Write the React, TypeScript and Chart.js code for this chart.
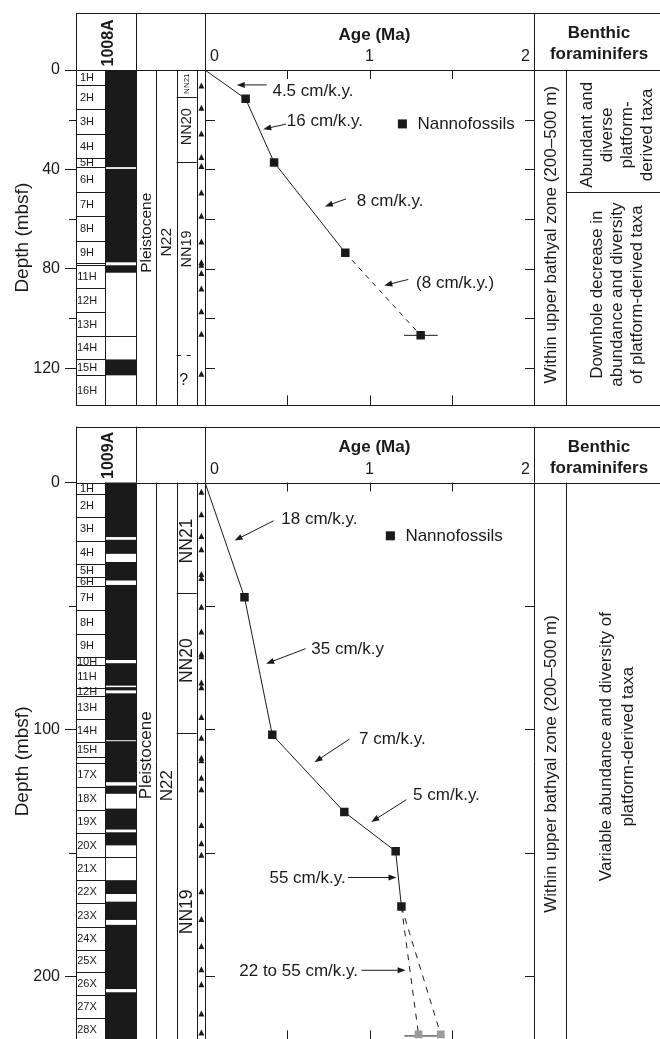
import React, { useEffect, useRef } from "react";
import { Chart, registerables } from "chart.js";

Chart.register(...registerables);

const FONT = '"Liberation Sans", Arial, Helvetica, sans-serif';
const INK = "#1a1a1a";
const GRAY = "#9b9b9b";

// ---------- shared age axis ----------
const AGE_MAX = 2;
const AGE_LABELS = [0, 1, 2];
const AGE_TICKS = [0.5, 1, 1.5];
const AGE_TITLE = "Age (Ma)";
const DEPTH_TITLE = "Depth (mbsf)";
const EPOCH_NAME = "Pleistocene";
const FORAM_ZONE = "N22";
const BATHYAL_TEXT = "Within upper bathyal zone (200–500 m)";
const BENTHIC_HEAD = ["Benthic", "foraminifers"];
const LEGEND_TEXT = "Nannofossils";

// ---------- Hole 1008A ----------
const A_SITE = "1008A";
const A_DEPTH_MAX = 135;
const A_DEPTH_TICKS = [0, 20, 40, 60, 80, 100, 120];
const A_DEPTH_LABELS = [0, 40, 80, 120];
const A_MODEL_AGE = [0, 0.247, 0.42, 0.853, 1.311];
const A_MODEL_DEPTH = [0, 11.6, 37.2, 73.6, 106.8];
const A_MODEL_DASHED_FROM = 3;
const A_NANNO_AGE = [0.247, 0.42, 0.853, 1.311];
const A_NANNO_DEPTH = [11.6, 37.2, 73.6, 106.8];
const A_ERROR_AGE = [1.21, 1.415];
const A_ERROR_DEPTH = [106.8, 106.8];
const A_SECTION_BOUNDS = [0, 6.0, 15.8, 25.7, 35.5, 39.2, 49.3, 58.9, 68.9, 77.6, 78.6, 87.7, 97.5, 107.1, 116.5, 122.9, 135];
const A_SECTION_LABELS = ["1H", "2H", "3H", "4H", "5H", "6H", "7H", "8H", "9H", "", "11H", "12H", "13H", "14H", "15H", "16H"];
const A_RECOVERY_TOP = [0, 39.8, 78.6, 116.5];
const A_RECOVERY_BASE = [39.1, 77.4, 81.6, 122.9];
const A_CORE_LINES = [107.1];
const A_NN_BOUNDS = [11.0, 37.2];
const A_NN_UNCERTAIN = [114.9];
const A_NN_NAMES = ["NN21", "NN20", "NN19"];
const A_NN_NAME_DEPTHS = [5.5, 22.8, 72];
const A_NN_NAME_SIZES = [8, 14.5, 14.5];
const A_QUERY_DEPTH = 125;
const A_EPOCH_DEPTH = 65.5;
const A_FORAM_DEPTH = 69.3;
const A_SAMPLES = [6.4, 15.4, 25.8, 35.2, 38.8, 49.5, 58.9, 69.2, 77.6, 78.6, 81.9, 88.1, 97.3, 106.4, 122.5];
const A_RATE_LABELS = ["4.5 cm/k.y.", "16 cm/k.y.", "8 cm/k.y.", "(8 cm/k.y.)"];
const A_RATE_TEXT_AT: [number, number][] = [[0.41, 8.6], [0.497, 20.8], [0.922, 52.9], [1.283, 86.0]];
const A_RATE_ALIGN = ["left", "left", "left", "left"];
const A_RATE_FROM: [number, number][] = [[0.375, 6.0], [0.492, 21.8], [0.857, 51.9], [1.236, 84.3]];
const A_RATE_TO: [number, number][] = [[0.193, 6.0], [0.354, 23.8], [0.729, 54.9], [1.09, 86.7]];
const A_LEGEND_AT: [number, number] = [1.2, 21.7];
const A_BENTHIC_BOUNDS = [49.3];
const A_BENTHIC_TEXTS = [
  ["Abundant and", "diverse", "platform-", "derived taxa"],
  ["Downhole decrease in", "abundance and diversity", "of platform-derived taxa"],
];
const A_BENTHIC_DEPTHS = [26.1, 90.4];
const A_BATHYAL_DEPTH = 66.3;

// ---------- Hole 1009A ----------
const B_SITE = "1009A";
const B_DEPTH_MAX = 226;
const B_DEPTH_TICKS = [0, 50, 100, 150, 200];
const B_DEPTH_LABELS = [0, 100, 200];
const B_MODEL_AGE = [0, 0.24, 0.409, 0.847, 1.159, 1.194];
const B_MODEL_DEPTH = [0, 46.5, 102.2, 133.5, 149.4, 171.8];
const B_NANNO_AGE = [0.24, 0.409, 0.847, 1.159, 1.194];
const B_NANNO_DEPTH = [46.5, 102.2, 133.5, 149.4, 171.8];
const B_BRANCH_AGE = [1.298, 1.433];
const B_BRANCH_DEPTH = [223.6, 223.6];
const B_ERROR_AGE = [1.212, 1.455];
const B_ERROR_DEPTH = [224.2, 224.2];
const B_SECTION_BOUNDS = [0, 4.6, 14.1, 23.5, 32.9, 38.1, 41.9, 51.6, 61.4, 70.8, 73.8, 83.2, 86.3, 95.7, 105.1, 111.3, 113.7, 123.2, 132.6, 142.0, 151.7, 161.1, 170.5, 179.9, 189.3, 198.1, 207.5, 216.9, 226];
const B_SECTION_LABELS = ["1H", "2H", "3H", "4H", "5H", "6H", "7H", "8H", "9H", "10H", "11H", "12H", "13H", "14H", "15H", "", "17X", "18X", "19X", "20X", "21X", "22X", "23X", "24X", "25X", "26X", "27X", "28X"];
const B_RECOVERY_TOP = [0, 23.2, 32.2, 41.5, 73.2, 82.9, 85.4, 104.8, 122.8, 132.1, 141.7, 161.1, 169.8, 179.2, 206.5];
const B_RECOVERY_BASE = [22.1, 28.9, 39.7, 71.9, 82.3, 84.2, 104.4, 121.4, 126.1, 140.6, 147.0, 166.7, 177.2, 205.2, 226];
const B_CORE_LINES = [151.7];
const B_NN_BOUNDS = [44.9, 101.6];
const B_NN_UNCERTAIN: number[] = [];
const B_NN_NAMES = ["NN21", "NN20", "NN19"];
const B_NN_NAME_DEPTHS = [23.7, 72.2, 173.9];
const B_NN_NAME_SIZES = [17.5, 17.5, 17.5];
const B_EPOCH_DEPTH = 110.5;
const B_FORAM_DEPTH = 122.8;
const B_SAMPLES = [4.0, 13.1, 21.9, 27.2, 37.3, 38.9, 50.5, 60.6, 69.6, 70.6, 81.2, 83.1, 95.2, 103.6, 111.7, 112.7, 119.8, 124.5, 138.9, 146.3, 151.0, 165.8, 177.0, 188.0, 197.4, 203.5, 215.3, 223.0];
const B_RATE_LABELS = ["18 cm/k.y.", "35 cm/k.y", "7 cm/k.y.", "5 cm/k.y.", "55 cm/k.y.", "22 to 55 cm/k.y."];
const B_RATE_TEXT_AT: [number, number][] = [[0.464, 15.0], [0.646, 67.7], [0.936, 103.9], [1.265, 126.8], [0.855, 160.2], [0.93, 198.2]];
const B_RATE_ALIGN = ["left", "left", "left", "left", "right", "right"];
const B_RATE_FROM: [number, number][] = [[0.417, 15.5], [0.612, 67.3], [0.879, 103.9], [1.224, 128.5], [0.869, 160.0], [0.951, 197.6]];
const B_RATE_TO: [number, number][] = [[0.18, 23.5], [0.372, 73.4], [0.666, 113.3], [1.011, 137.5], [1.164, 160.0], [1.22, 197.6]];
const B_LEGEND_AT: [number, number] = [1.127, 21.6];
const B_BENTHIC_BOUNDS: number[] = [];
const B_BENTHIC_TEXTS = [["Variable abundance and diversity of", "platform-derived taxa"]];
const B_BENTHIC_DEPTHS = [107];
const B_BATHYAL_DEPTH = 114;

// ---------- layout (pixels) ----------
const CANVAS_W = 660;
const LEFT_AXIS_W = 76;
const COLUMNS_W = 129; // strip columns left of the age plot
const PLOT_W = 458 - COLUMNS_W;
const RIGHT_PAD = 126;
const X_MIN = (-AGE_MAX * COLUMNS_W) / PLOT_W;

interface PanelSpec {
  site: string;
  canvasH: number;
  headerTop: number;
  chartTop: number;
  chartBottom: number;
  depthMax: number;
  depthTicks: number[];
  depthLabels: number[];
  modelAge: number[];
  modelDepth: number[];
  dashedFrom: number;
  nannoAge: number[];
  nannoDepth: number[];
  branchAge: number[];
  branchDepth: number[];
  errorAge: number[];
  errorDepth: number[];
  sectionBounds: number[];
  sectionLabels: string[];
  recoveryTop: number[];
  recoveryBase: number[];
  coreLines: number[];
  nnBounds: number[];
  nnUncertain: number[];
  nnNames: string[];
  nnNameDepths: number[];
  nnNameSizes: number[];
  queryDepth: number | null;
  epochDepth: number;
  foramDepth: number;
  zoneSize: number;
  samples: number[];
  rateLabels: string[];
  rateTextAt: [number, number][];
  rateAlign: string[];
  rateFrom: [number, number][];
  rateTo: [number, number][];
  legendAt: [number, number];
  benthicBounds: number[];
  benthicTexts: string[][];
  benthicDepths: number[];
  benthicLH: number;
  bathyalDepth: number;
}

const PANEL_A: PanelSpec = {
  site: A_SITE, canvasH: 420, headerTop: 13, chartTop: 70, chartBottom: 406.1,
  depthMax: A_DEPTH_MAX, depthTicks: A_DEPTH_TICKS, depthLabels: A_DEPTH_LABELS,
  modelAge: A_MODEL_AGE, modelDepth: A_MODEL_DEPTH, dashedFrom: A_MODEL_DASHED_FROM,
  nannoAge: A_NANNO_AGE, nannoDepth: A_NANNO_DEPTH, branchAge: [], branchDepth: [],
  errorAge: A_ERROR_AGE, errorDepth: A_ERROR_DEPTH,
  sectionBounds: A_SECTION_BOUNDS, sectionLabels: A_SECTION_LABELS,
  recoveryTop: A_RECOVERY_TOP, recoveryBase: A_RECOVERY_BASE, coreLines: A_CORE_LINES,
  nnBounds: A_NN_BOUNDS, nnUncertain: A_NN_UNCERTAIN, nnNames: A_NN_NAMES,
  nnNameDepths: A_NN_NAME_DEPTHS, nnNameSizes: A_NN_NAME_SIZES, queryDepth: A_QUERY_DEPTH,
  epochDepth: A_EPOCH_DEPTH, foramDepth: A_FORAM_DEPTH, zoneSize: 15.5, samples: A_SAMPLES,
  rateLabels: A_RATE_LABELS, rateTextAt: A_RATE_TEXT_AT, rateAlign: A_RATE_ALIGN,
  rateFrom: A_RATE_FROM, rateTo: A_RATE_TO, legendAt: A_LEGEND_AT,
  benthicBounds: A_BENTHIC_BOUNDS, benthicTexts: A_BENTHIC_TEXTS, benthicDepths: A_BENTHIC_DEPTHS,
  benthicLH: 20, bathyalDepth: A_BATHYAL_DEPTH,
};

const PANEL_B: PanelSpec = {
  site: B_SITE, canvasH: 640, headerTop: 11.7, chartTop: 67.5, chartBottom: 67.5 + 226 * 2.479,
  depthMax: B_DEPTH_MAX, depthTicks: B_DEPTH_TICKS, depthLabels: B_DEPTH_LABELS,
  modelAge: B_MODEL_AGE, modelDepth: B_MODEL_DEPTH, dashedFrom: 999,
  nannoAge: B_NANNO_AGE, nannoDepth: B_NANNO_DEPTH, branchAge: B_BRANCH_AGE, branchDepth: B_BRANCH_DEPTH,
  errorAge: B_ERROR_AGE, errorDepth: B_ERROR_DEPTH,
  sectionBounds: B_SECTION_BOUNDS, sectionLabels: B_SECTION_LABELS,
  recoveryTop: B_RECOVERY_TOP, recoveryBase: B_RECOVERY_BASE, coreLines: B_CORE_LINES,
  nnBounds: B_NN_BOUNDS, nnUncertain: B_NN_UNCERTAIN, nnNames: B_NN_NAMES,
  nnNameDepths: B_NN_NAME_DEPTHS, nnNameSizes: B_NN_NAME_SIZES, queryDepth: null,
  epochDepth: B_EPOCH_DEPTH, foramDepth: B_FORAM_DEPTH, zoneSize: 17, samples: B_SAMPLES,
  rateLabels: B_RATE_LABELS, rateTextAt: B_RATE_TEXT_AT, rateAlign: B_RATE_ALIGN,
  rateFrom: B_RATE_FROM, rateTo: B_RATE_TO, legendAt: B_LEGEND_AT,
  benthicBounds: B_BENTHIC_BOUNDS, benthicTexts: B_BENTHIC_TEXTS, benthicDepths: B_BENTHIC_DEPTHS,
  benthicLH: 22, bathyalDepth: B_BATHYAL_DEPTH,
};

// ---------- drawing helpers ----------
const snap = (v: number) => Math.round(v) + 0.5;

function hLine(ctx: CanvasRenderingContext2D, x1: number, x2: number, y: number) {
  ctx.beginPath();
  ctx.moveTo(x1, snap(y));
  ctx.lineTo(x2, snap(y));
  ctx.stroke();
}
function vLine(ctx: CanvasRenderingContext2D, x: number, y1: number, y2: number) {
  ctx.beginPath();
  ctx.moveTo(snap(x), y1);
  ctx.lineTo(snap(x), y2);
  ctx.stroke();
}
function vText(ctx: CanvasRenderingContext2D, lines: string[], cx: number, cy: number, font: string, lh: number, align: CanvasTextAlign = "center") {
  ctx.save();
  ctx.translate(cx, cy);
  ctx.rotate(-Math.PI / 2);
  ctx.font = font;
  ctx.textAlign = align;
  ctx.textBaseline = "middle";
  const n = lines.length;
  lines.forEach((s, i) => ctx.fillText(s, 0, (i - (n - 1) / 2) * lh));
  ctx.restore();
}
function arrow(ctx: CanvasRenderingContext2D, x1: number, y1: number, x2: number, y2: number) {
  const ang = Math.atan2(y2 - y1, x2 - x1);
  const L = 8;
  const W = 3;
  const c = Math.cos(ang);
  const s = Math.sin(ang);
  ctx.beginPath();
  ctx.moveTo(x1, y1);
  ctx.lineTo(x2 - c * 4, y2 - s * 4);
  ctx.stroke();
  ctx.beginPath();
  ctx.moveTo(x2, y2);
  ctx.lineTo(x2 - L * c + W * s, y2 - L * s - W * c);
  ctx.lineTo(x2 - L * c - W * s, y2 - L * s + W * c);
  ctx.closePath();
  ctx.fill();
}

function makeDecor(p: PanelSpec) {
  return {
    id: "stratDecor",
    beforeDatasetsDraw(chart: any) {
      const ctx: CanvasRenderingContext2D = chart.ctx;
      const { left, right, top, bottom } = chart.chartArea;
      const xs = chart.scales.x;
      const ys = chart.scales.y;
      const Y = (d: number) => ys.getPixelForValue(d);
      const X = (a: number) => xs.getPixelForValue(a);
      const plotL = X(0);
      const cSec = left + 29;
      const cCore = left + 60;
      const cEpoch = left + 80;
      const cForam = left + 100.7;
      const cNN = left + 120.7;
      const split = right + 32;
      const W = chart.width;
      const hTop = p.headerTop;

      ctx.save();
      ctx.strokeStyle = INK;
      ctx.fillStyle = INK;
      ctx.lineWidth = 1;

      // recovery (black) column
      p.recoveryTop.forEach((t, i) => {
        const y1 = Y(t);
        const y2 = Y(p.recoveryBase[i]);
        ctx.fillRect(cSec, y1, cCore - cSec, y2 - y1);
      });

      // section boxes
      p.sectionBounds.forEach((b, i) => {
        if (i === 0 || i === p.sectionBounds.length - 1) return;
        hLine(ctx, left, cSec, Y(b));
      });
      p.coreLines.forEach((b) => hLine(ctx, left, cCore, Y(b)));
      ctx.font = `11px ${FONT}`;
      ctx.textAlign = "center";
      ctx.textBaseline = "middle";
      p.sectionLabels.forEach((s, i) => {
        if (!s) return;
        const yc = (Y(p.sectionBounds[i]) + Y(Math.min(p.sectionBounds[i + 1], p.depthMax))) / 2;
        ctx.fillText(s, left + 11, yc + 0.5);
      });

      // frame: header
      hLine(ctx, left, W, hTop);
      hLine(ctx, left, W, top);
      [left, cCore, plotL, right].forEach((x) => vLine(ctx, x, hTop, top));
      // body column lines
      [cSec, cCore, cEpoch, cForam, cNN, plotL, right, split].forEach((x) => vLine(ctx, x, top, bottom));
      hLine(ctx, left, W, bottom);

      // nannofossil zone boundaries
      p.nnBounds.forEach((b) => hLine(ctx, cForam, cNN, Y(b)));
      ctx.save();
      ctx.setLineDash([4, 6]);
      p.nnUncertain.forEach((b) => hLine(ctx, cForam, cNN, Y(b)));
      ctx.restore();

      // zone names
      vText(ctx, [EPOCH_NAME], (cCore + cEpoch) / 2 + 0.5, Y(p.epochDepth), `${p.zoneSize}px ${FONT}`, 0);
      vText(ctx, [FORAM_ZONE], (cEpoch + cForam) / 2 + 0.5, Y(p.foramDepth), `${p.zoneSize}px ${FONT}`, 0);
      p.nnNames.forEach((s, i) => {
        vText(ctx, [s], (cForam + cNN) / 2 + 0.5, Y(p.nnNameDepths[i]), `${p.nnNameSizes[i]}px ${FONT}`, 0);
      });
      if (p.queryDepth !== null) {
        ctx.font = `16px ${FONT}`;
        ctx.textAlign = "center";
        ctx.textBaseline = "middle";
        ctx.fillText("?", cForam + 7, Y(p.queryDepth));
      }

      // sample triangles
      const tx = (cNN + plotL) / 2 + 0.5;
      p.samples.forEach((d) => {
        const y = Y(d);
        ctx.beginPath();
        ctx.moveTo(tx, y - 3.5);
        ctx.lineTo(tx + 3, y + 2.5);
        ctx.lineTo(tx - 3, y + 2.5);
        ctx.closePath();
        ctx.fill();
      });

      // depth axis minor ticks (outside)
      p.depthTicks.forEach((d) => {
        if (!p.depthLabels.includes(d)) hLine(ctx, left - 7, left, Y(d));
      });
      // inner ticks along the plot frame
      p.depthTicks.forEach((d) => {
        if (d === 0) return;
        hLine(ctx, plotL, plotL + 10, Y(d));
        hLine(ctx, right - 9, right, Y(d));
      });
      AGE_TICKS.forEach((a) => {
        vLine(ctx, X(a), top, top + 9);
        vLine(ctx, X(a), bottom - 10, bottom);
      });

      // benthic column divisions
      p.benthicBounds.forEach((b) => hLine(ctx, split, W, Y(b)));

      // header texts
      ctx.font = `bold 16px ${FONT}`;
      ctx.save();
      ctx.translate(left + 33, top - 3.5);
      ctx.rotate(-Math.PI / 2);
      ctx.textAlign = "left";
      ctx.textBaseline = "middle";
      ctx.fillText(p.site, 0, 0);
      ctx.restore();

      ctx.textBaseline = "middle";
      ctx.textAlign = "center";
      ctx.font = `bold 17px ${FONT}`;
      ctx.fillText(AGE_TITLE, X(1.03), top - 35);
      ctx.fillText(BENTHIC_HEAD[0], right + 65, hTop + 20.5);
      ctx.fillText(BENTHIC_HEAD[1], right + 65, hTop + 41.5);

      ctx.font = `16px ${FONT}`;
      AGE_LABELS.forEach((a, i) => {
        const x = X(a);
        if (i === 0) {
          ctx.textAlign = "left";
          ctx.fillText(String(a), x + 5, top - 13);
        } else if (i === AGE_LABELS.length - 1) {
          ctx.textAlign = "right";
          ctx.fillText(String(a), x - 4, top - 13);
        } else {
          ctx.textAlign = "center";
          ctx.fillText(String(a), x, top - 13);
        }
      });

      // benthic foraminifer texts
      vText(ctx, [BATHYAL_TEXT], right + 17.5, Y(p.bathyalDepth), `17px ${FONT}`, 0);
      p.benthicTexts.forEach((lines, i) => {
        vText(ctx, lines, right + 83, Y(p.benthicDepths[i]), `17px ${FONT}`, p.benthicLH);
      });
      ctx.restore();
    },
    afterDatasetsDraw(chart: any) {
      const ctx: CanvasRenderingContext2D = chart.ctx;
      const xs = chart.scales.x;
      const ys = chart.scales.y;
      const Y = (d: number) => ys.getPixelForValue(d);
      const X = (a: number) => xs.getPixelForValue(a);
      ctx.save();
      ctx.strokeStyle = INK;
      ctx.fillStyle = INK;
      ctx.lineWidth = 1;
      ctx.font = `17px ${FONT}`;
      ctx.textBaseline = "middle";
      p.rateLabels.forEach((s, i) => {
        const [ta, td] = p.rateTextAt[i];
        ctx.textAlign = p.rateAlign[i] as CanvasTextAlign;
        ctx.fillText(s, X(ta), Y(td));
        const [fa, fd] = p.rateFrom[i];
        const [aa, ad] = p.rateTo[i];
        arrow(ctx, X(fa), Y(fd), X(aa), Y(ad));
      });
      // legend
      const lx = X(p.legendAt[0]);
      const ly = Y(p.legendAt[1]);
      ctx.fillRect(lx - 4.5, ly - 4.5, 9, 9);
      ctx.textAlign = "left";
      ctx.fillText(LEGEND_TEXT, lx + 15, ly + 0.5);
      ctx.restore();
    },
  };
}

function buildDatasets(p: PanelSpec) {
  const ds: any[] = [];
  ds.push({
    label: LEGEND_TEXT,
    data: p.nannoAge.map((a, i) => ({ x: a, y: p.nannoDepth[i] })),
    pointStyle: "rect",
    pointRadius: 6,
    backgroundColor: INK,
    borderColor: INK,
    borderWidth: 0,
    showLine: false,
  });
  if (p.branchAge.length) {
    ds.push({
      label: "Nannofossils (projected)",
      data: p.branchAge.map((a, i) => ({ x: a, y: p.branchDepth[i] })),
      pointStyle: "rect",
      pointRadius: 5.5,
      backgroundColor: GRAY,
      borderColor: GRAY,
      borderWidth: 0,
      showLine: false,
    });
  }
  ds.push({
    label: "Age model",
    data: p.modelAge.map((a, i) => ({ x: a, y: p.modelDepth[i] })),
    showLine: true,
    borderColor: INK,
    borderWidth: 1,
    pointRadius: 0,
    segment: {
      borderDash: (c: any) => (c.p0DataIndex >= p.dashedFrom ? [5, 5] : undefined),
    },
  });
  const lastA = p.modelAge[p.modelAge.length - 1];
  const lastD = p.modelDepth[p.modelDepth.length - 1];
  p.branchAge.forEach((a, i) => {
    ds.push({
      label: "Projection " + (i + 1),
      data: [
        { x: lastA, y: lastD },
        { x: a, y: p.branchDepth[i] },
      ],
      showLine: true,
      borderColor: INK,
      borderWidth: 1,
      borderDash: [6, 6],
      pointRadius: 0,
    });
  });
  ds.push({
    label: "Age range",
    data: p.errorAge.map((a, i) => ({ x: a, y: p.errorDepth[i] })),
    showLine: true,
    borderColor: INK,
    borderWidth: 1,
    pointRadius: 0,
  });
  return ds;
}

function makeChart(canvas: HTMLCanvasElement, p: PanelSpec) {
  return new Chart(canvas, {
    type: "scatter",
    data: { datasets: buildDatasets(p) },
    options: {
      animation: false,
      responsive: false,
      devicePixelRatio: 1,
      events: [],
      layout: {
        padding: { left: 0, right: RIGHT_PAD, top: p.chartTop, bottom: p.canvasH - p.chartBottom },
      },
      plugins: { legend: { display: false }, tooltip: { enabled: false } },
      scales: {
        x: { type: "linear", display: false, min: X_MIN, max: AGE_MAX },
        y: {
          type: "linear",
          reverse: true,
          min: 0,
          max: p.depthMax,
          afterBuildTicks: (s: any) => {
            s.ticks = p.depthTicks.map((v) => ({ value: v }));
          },
          afterFit: (s: any) => {
            s.width = LEFT_AXIS_W;
          },
          ticks: {
            autoSkip: false,
            maxRotation: 0,
            padding: 5,
            color: INK,
            font: { family: FONT, size: 16 },
            callback: (v: any) => (p.depthLabels.includes(Number(v)) ? String(v) : ""),
          },
          grid: {
            drawOnChartArea: false,
            drawTicks: true,
            tickLength: 11,
            tickWidth: 1,
            tickColor: (c: any) => (c.tick && p.depthLabels.includes(c.tick.value) ? INK : "rgba(0,0,0,0)"),
          },
          border: { display: true, color: INK, width: 1 },
          title: {
            display: true,
            text: DEPTH_TITLE,
            color: INK,
            font: { family: FONT, size: 19 },
            padding: { top: 11, bottom: 0 },
          },
        },
      },
    },
    plugins: [makeDecor(p)],
  } as any);
}

export default function App() {
  const refA = useRef<HTMLCanvasElement>(null);
  const refB = useRef<HTMLCanvasElement>(null);
  useEffect(() => {
    const charts = [makeChart(refA.current!, PANEL_A), makeChart(refB.current!, PANEL_B)];
    return () => charts.forEach((c) => c.destroy());
  }, []);
  return (
    <div style={{ position: "fixed", left: 0, top: 0, width: 660, height: 1039, overflow: "hidden", background: "#fff" }}>
      <canvas ref={refA} width={CANVAS_W} height={PANEL_A.canvasH} style={{ position: "absolute", left: 0, top: 0, width: CANVAS_W, height: PANEL_A.canvasH }} />
      <canvas ref={refB} width={CANVAS_W} height={PANEL_B.canvasH} style={{ position: "absolute", left: 0, top: 415, width: CANVAS_W, height: PANEL_B.canvasH }} />
    </div>
  );
}
